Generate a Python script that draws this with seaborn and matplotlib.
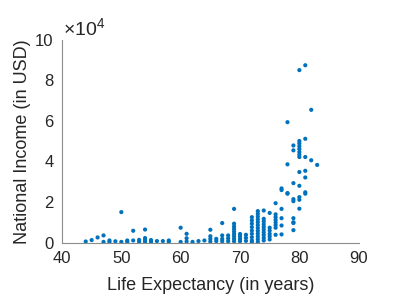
import numpy as np
import pandas as pd
import matplotlib
matplotlib.use("Agg")
import matplotlib.pyplot as plt
import seaborn as sns

# life expectancy (years) and national income (USD)
life_exp = (
    [44, 45, 46, 47, 47, 48, 48, 49, 50, 50, 51, 51, 52, 52, 53, 53]
    + [54, 54, 54, 54, 55, 55, 56, 57, 58, 58, 60, 60]
    + [61, 61, 61, 62, 63, 64, 65, 65, 65, 65, 66, 66]
    + [67, 67, 67, 67, 68, 68, 68]
    + [69] * 9 + [70] * 4 + [71] * 3 + [72] * 9 + [73] * 12 + [74] * 10
    + [75] * 6 + [76] * 8 + [77] * 6 + [78] * 4
    + [79] * 9 + [80] * 13 + [81] * 7 + [82, 82, 83]
)
income = (
    [500, 1200, 2500, 3500, 300, 1000, 200, 600, 15000, 300, 1000, 300, 5800, 1000, 1300, 300]
    + [6400, 2200, 1200, 300, 1200, 300, 700, 700, 1000, 300, 7300, 300]
    + [4300, 2100, 500, 300, 700, 1000, 6300, 3100, 1800, 500, 1800, 700]
    + [9600, 3500, 1800, 600, 3500, 2000, 600]
    # 69
    + [16600, 9300, 7900, 6700, 5400, 4200, 3000, 1800, 600]
    # 70, 71
    + [4200, 3000, 1800, 600] + [3800, 2300, 800]
    # 72
    + [12500, 10900, 9300, 7600, 5900, 4300, 2600, 1000, 300]
    # 73
    + [15500, 14200, 12800, 11400, 10000, 8600, 7200, 5800, 4400, 3000, 1600, 300]
    # 74
    + [15800, 11700, 10400, 9000, 7700, 6400, 5000, 3700, 2300, 1000]
    # 75
    + [14600, 7300, 5900, 4300, 3000, 1500]
    # 76
    + [19400, 13900, 12500, 11200, 9900, 8600, 7300, 3800]
    # 77
    + [26700, 25900, 16600, 12000, 8400, 4000]
    # 78
    + [59400, 38600, 24100, 24400]
    # 79
    + [47900, 45500, 29300, 21400, 20400, 12000, 10000, 9600, 6100]
    # 80
    + [85100, 50100, 48900, 47500, 46200, 44700, 43400, 42200, 34800, 28000, 22400, 21100, 16700]
    # 81
    + [87500, 51200, 42200, 35400, 32100, 24800, 24100]
    + [65500, 40600, 38300]
)

x_ticks = [40, 50, 60, 70, 80, 90]
y_ticks = [0, 20000, 40000, 60000, 80000, 100000]
y_tick_labels = ["0", "2", "4", "6", "8", "10"]

df = pd.DataFrame({"life": life_exp, "income": income})

sns.set_style("white")
plt.rcParams["font.family"] = ["Liberation Sans", "DejaVu Sans"]

text_col = "#262626"
axis_col = "#8c8c8c"

fig = plt.figure(figsize=(4.07, 3.06), dpi=100)
ax = fig.add_axes([0.1523, 0.2075, 0.729, 0.662])

sns.scatterplot(data=df, x="life", y="income", ax=ax, color="#0072BD",
                s=9, linewidth=0, edgecolor="none")

ax.set_xlim(40, 90)
ax.set_ylim(0, 100000)
ax.set_xticks(x_ticks)
ax.set_yticks(y_ticks)
ax.set_yticklabels(y_tick_labels)
ax.tick_params(direction="in", length=3, width=0.6, colors=axis_col,
               labelcolor=text_col, labelsize=12, pad=6)
for side in ["top", "right"]:
    ax.spines[side].set_visible(False)
for side in ["left", "bottom"]:
    ax.spines[side].set_color(axis_col)
    ax.spines[side].set_linewidth(0.8)

ax.set_xlabel("Life Expectancy (in years)", fontsize=13, color=text_col, labelpad=8)
ax.set_ylabel("National Income (in USD)", fontsize=13, color=text_col, labelpad=3)
ax.text(0.005, 1.005, r"$\mathregular{\times10^{4}}$", transform=ax.transAxes,
        fontsize=14, color=text_col, ha="left", va="bottom")

fig.savefig("out.png", dpi=100)
